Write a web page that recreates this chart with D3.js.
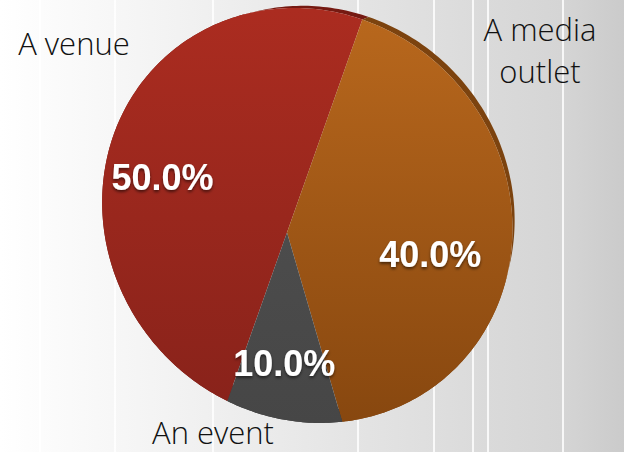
<!DOCTYPE html>
<html><head><meta charset="utf-8">
<script src="https://cdn.jsdelivr.net/npm/d3@7"></script>
<style>html,body{margin:0;padding:0;background:#fff;overflow:hidden}</style>
</head><body>
<svg id="chart" width="624" height="452"></svg>
<script>
// ---- data ----
const categories = ["A venue", "A media outlet", "An event"];
const values = [50, 40, 10];
const percentLabels = ["50.0%", "40.0%", "10.0%"];

// ---- styling / layout ----
const faceTop = ["#ab2c20", "#b9681d", "#535353"];
const faceBottom = ["#87221a", "#87470f", "#464646"];
const rimColors = ["#761a12", "#7c430f", "#333333"];
const labelLines = [["A venue"], ["A media", "outlet"], ["An event"]];
const labelAnchors = [[74, 55], [540, 83], [213, 444]];
const pctNudge = [[0, -2], [-4, 8], [0, 0]];
const stripeX = [40, 115, 213, 358, 434, 473, 488, 563];

const W = 624, H = 452;
const C = [287, 232.5];
const R = 211, cosT = 0.929, g = 0.1328;
const tiltDir = 50 * Math.PI / 180;
const u = [Math.sin(tiltDir), -Math.cos(tiltDir)];
const v = [Math.cos(tiltDir), Math.sin(tiltDir)];
const angleOffset = -208.7 * Math.PI / 180;
const rimDir = 45 * Math.PI / 180;
const backShift = [12 * Math.sin(rimDir), -12 * Math.cos(rimDir)];
const backScale = 0.972;

function project(a, rf) {
  const b = a + angleOffset;
  const s = rf * Math.cos(b), w = rf * Math.sin(b);
  const k = 1 / (1 - g * s);
  const X = R * cosT * s, Y = R * w;
  return [C[0] + k * (X * u[0] + Y * v[0]), C[1] + k * (X * u[1] + Y * v[1])];
}
function back(p) {
  return [C[0] + backShift[0] + backScale * (p[0] - C[0]),
          C[1] + backShift[1] + backScale * (p[1] - C[1])];
}
function arcAngles(a0, a1) {
  const n = Math.max(2, Math.ceil((a1 - a0) / (Math.PI / 180)));
  return d3.range(n + 1).map(i => a0 + (a1 - a0) * i / n);
}

const svg = d3.select("#chart");
const defs = svg.append("defs");

const bg = defs.append("linearGradient").attr("id", "bg").attr("x1", 0).attr("x2", 1).attr("y1", 0).attr("y2", 0);
[[0, "#ffffff"], [0.2, "#f6f6f6"], [0.35, "#efefef"], [0.57, "#e4e4e4"], [0.7, "#dedede"],
 [0.78, "#dadada"], [0.9, "#d5d5d5"], [1, "#cbcbcb"]].forEach(s =>
  bg.append("stop").attr("offset", s[0]).attr("stop-color", s[1]));

categories.forEach((c, i) => {
  const lg = defs.append("linearGradient").attr("id", "face" + i)
    .attr("gradientUnits", "userSpaceOnUse").attr("x1", 0).attr("x2", 0).attr("y1", 10).attr("y2", 425);
  lg.append("stop").attr("offset", 0).attr("stop-color", faceTop[i]);
  lg.append("stop").attr("offset", 1).attr("stop-color", faceBottom[i]);
});

const sh = defs.append("filter").attr("id", "shadow").attr("x", "-20%").attr("y", "-20%").attr("width", "140%").attr("height", "160%");
sh.append("feDropShadow").attr("dx", 0).attr("dy", 2).attr("stdDeviation", 1.6)
  .attr("flood-color", "#000").attr("flood-opacity", 0.55);

svg.append("rect").attr("width", W).attr("height", H).attr("fill", "url(#bg)");
svg.append("g").selectAll("line").data(stripeX).join("line")
  .attr("x1", d => d).attr("x2", d => d).attr("y1", 0).attr("y2", H)
  .attr("stroke", "#ffffff").attr("stroke-width", 2).attr("stroke-opacity", 0.8);

const pie = d3.pie().sort(null).value(d => d)(values);
const line = d3.line();

// side (thickness)
svg.append("g").selectAll("path").data(pie).join("path")
  .attr("fill", (d, i) => rimColors[i])
  .attr("d", d => {
    const front = arcAngles(d.startAngle, d.endAngle).map(a => project(a, 1));
    const backs = front.map(back).reverse();
    return line(front.concat(backs)) + "Z";
  });

// face
svg.append("g").selectAll("path").data(pie).join("path")
  .attr("fill", (d, i) => `url(#face${i})`)
  .attr("d", d => line([C].concat(arcAngles(d.startAngle, d.endAngle).map(a => project(a, 1)))) + "Z");

// percent labels
svg.append("g").selectAll("text").data(pie).join("text")
  .attr("x", (d, i) => project((d.startAngle + d.endAngle) / 2, 0.68)[0] + pctNudge[i][0])
  .attr("y", (d, i) => project((d.startAngle + d.endAngle) / 2, 0.68)[1] + pctNudge[i][1])
  .attr("dy", "0.36em")
  .attr("text-anchor", "middle")
  .attr("font-family", "'Liberation Sans', Arial, Helvetica, sans-serif")
  .attr("font-weight", "bold").attr("font-size", 36)
  .attr("fill", "#ffffff").attr("filter", "url(#shadow)")
  .text((d, i) => percentLabels[i]);

// category labels
const lab = svg.append("g").selectAll("text").data(categories).join("text")
  .attr("x", (d, i) => labelAnchors[i][0])
  .attr("y", (d, i) => labelAnchors[i][1] - (labelLines[i].length - 1) * 42)
  .attr("text-anchor", "middle")
  .attr("font-family", "'Open Sans', Roboto, sans-serif")
  .attr("font-weight", 300).attr("font-size", 31)
  .attr("fill", "#111111");
lab.each(function (d, i) {
  d3.select(this).selectAll("tspan").data(labelLines[i]).join("tspan")
    .attr("x", labelAnchors[i][0]).attr("dy", (t, j) => j === 0 ? 0 : 42).text(t => t);
});
</script>
</body></html>
